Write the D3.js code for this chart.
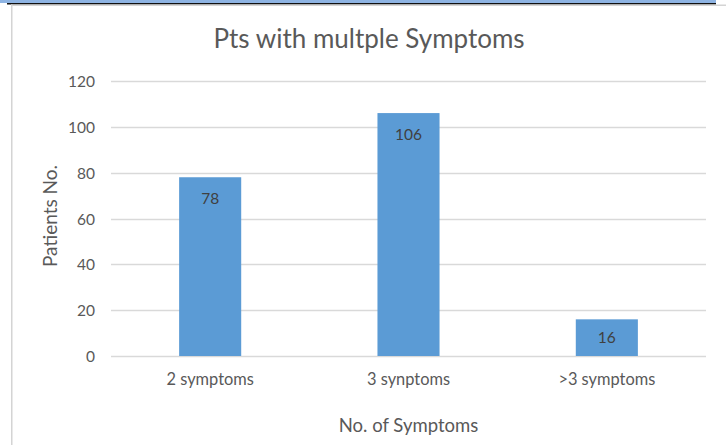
<!DOCTYPE html>
<html>
<head>
<meta charset="utf-8">
<script src="https://cdn.jsdelivr.net/npm/d3@7"></script>
<style>
  html, body { margin: 0; padding: 0; background: #fff; }
  svg { display: block; font-family: Lato, "Open Sans", sans-serif; }
</style>
</head>
<body>
<svg id="chart" width="726" height="445"></svg>
<script>
// Patient counts by number of symptoms
const categories = ["2 symptoms", "3 synptoms", ">3 symptoms"];
const patients = [78, 106, 16];
const yTicks = [0, 20, 40, 60, 80, 100, 120];

const chartTitle = "Pts with multple Symptoms";
const xTitle = "No. of Symptoms";
const yTitle = "Patients No.";

const FONT = "Lato, 'Open Sans', sans-serif";
const svg = d3.select("#chart");
const W = 726, H = 445;
const plot = { left: 111, right: 706, top: 81, bottom: 356 };

// frame: blue header strip and grey page edges
svg.append("rect").attr("x", 0).attr("y", 0).attr("width", 716).attr("height", 3).attr("fill", "#8eb4e3");
svg.append("rect").attr("x", 7).attr("y", 3).attr("width", 709).attr("height", 1.5).attr("fill", "#111");
svg.append("rect").attr("x", 11).attr("y", 4.5).attr("width", W - 11).attr("height", 1.5).attr("fill", "#d4d4d4");
svg.append("rect").attr("x", 11).attr("y", 4.5).attr("width", 1.5).attr("height", H).attr("fill", "#d4d4d4");

const x = d3.scaleBand()
  .domain(categories)
  .range([plot.left, plot.right])
  .paddingInner(0.687)
  .paddingOuter(0.3435);

const y = d3.scaleLinear()
  .domain([0, 120])
  .range([plot.bottom, plot.top]);

// horizontal gridlines
svg.append("g")
  .selectAll("line")
  .data(yTicks)
  .join("line")
  .attr("x1", plot.left)
  .attr("x2", plot.right)
  .attr("y1", d => Math.round(y(d)) + 0.5)
  .attr("y2", d => Math.round(y(d)) + 0.5)
  .attr("stroke", "#d9d9d9")
  .attr("stroke-width", 1.5);

// y axis labels
const yAxis = d3.axisLeft(y).tickValues(yTicks).tickSize(0).tickPadding(0);
const yg = svg.append("g")
  .attr("transform", `translate(${plot.left - 16},0)`)
  .call(yAxis)
  .attr("font-family", FONT)
  .attr("font-size", null);
yg.select(".domain").remove();
yg.selectAll("text")
  .attr("fill", "#595959")
  .style("font-size", "15.5px")
  .attr("dy", "0.36em");

// bars
svg.append("g")
  .selectAll("rect")
  .data(patients)
  .join("rect")
  .attr("x", (d, i) => x(categories[i]))
  .attr("width", x.bandwidth())
  .attr("y", d => y(d))
  .attr("height", d => y(0) - y(d))
  .attr("fill", "#5b9bd5");

// value labels just inside the bar top; short bars get the label centred
svg.append("g")
  .selectAll("text")
  .data(patients)
  .join("text")
  .attr("x", (d, i) => x(categories[i]) + x.bandwidth() / 2)
  .attr("y", d => Math.min(y(d) + 21.5, (y(d) + y(0)) / 2))
  .attr("dy", "0.36em")
  .attr("text-anchor", "middle")
  .attr("fill", "#404040")
  .style("font-size", "15.5px")
  .text(d => d);

// x axis category labels
const xAxis = d3.axisBottom(x).tickSize(0).tickPadding(0);
const xg = svg.append("g")
  .attr("transform", `translate(0,${plot.bottom + 17})`)
  .call(xAxis)
  .attr("font-family", FONT)
  .attr("font-size", null);
xg.select(".domain").remove();
xg.selectAll("text")
  .attr("fill", "#595959")
  .style("font-size", "16.4px")
  .attr("dy", "0.71em");

// titles
svg.append("text")
  .attr("x", 369).attr("y", 48)
  .attr("text-anchor", "middle")
  .attr("fill", "#595959")
  .style("font-size", "26px")
  .text(chartTitle);

svg.append("text")
  .attr("x", 408.5).attr("y", 432)
  .attr("text-anchor", "middle")
  .attr("fill", "#595959")
  .style("font-size", "18.5px")
  .text(xTitle);

svg.append("text")
  .attr("transform", "translate(57,216) rotate(-90)")
  .attr("text-anchor", "middle")
  .attr("fill", "#595959")
  .style("font-size", "19px")
  .text(yTitle);
</script>
</body>
</html>
